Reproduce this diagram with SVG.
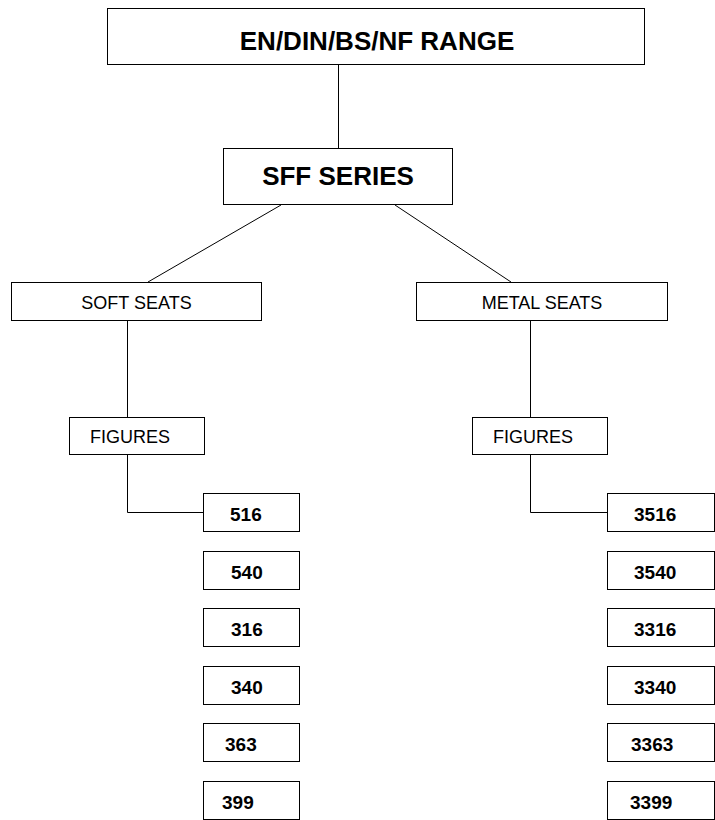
<svg xmlns="http://www.w3.org/2000/svg" width="715" height="820" viewBox="0 0 715 820">
<style>
rect{fill:#fff;stroke:#000;stroke-width:1}
line,polyline{stroke:#000;stroke-width:1;fill:none}
text{font-family:"Liberation Sans",Arial,sans-serif;fill:#000}
.big{font-size:26px;font-weight:bold;text-anchor:middle}
.mid{font-size:18px;text-anchor:middle}
.lab{font-size:18px}
.num{font-size:19px;font-weight:bold}
</style>
<rect width="715" height="820" style="stroke:none"/>
<g id="connectors">
<line x1="338.5" y1="65" x2="338.5" y2="148"/>
<line x1="281" y1="205" x2="148" y2="282"/>
<line x1="395" y1="205" x2="511" y2="282"/>
<line x1="127.5" y1="321" x2="127.5" y2="417"/>
<line x1="530.5" y1="321" x2="530.5" y2="417"/>
<polyline points="127.5,454 127.5,512.5 203,512.5"/>
<polyline points="530.5,454 530.5,512.5 607,512.5"/>
</g>
<g id="range"><rect x="107.5" y="8.5" width="537" height="56"/><text class="big" x="377" y="50">EN/DIN/BS/NF RANGE</text></g>
<g id="sff"><rect x="223.5" y="148.5" width="229" height="56"/><text class="big" x="338" y="185">SFF SERIES</text></g>
<g id="soft"><rect x="11.5" y="282.5" width="250" height="38"/><text class="mid" x="136.5" y="309">SOFT SEATS</text></g>
<g id="metal"><rect x="416.5" y="282.5" width="251" height="38"/><text class="mid" x="542" y="309">METAL SEATS</text></g>
<g id="fig-soft"><rect x="69.5" y="417.5" width="135" height="37"/><text class="lab" x="90" y="443">FIGURES</text></g>
<g id="fig-metal"><rect x="472.5" y="417.5" width="135" height="37"/><text class="lab" x="493" y="443">FIGURES</text></g>
<g id="n516"><rect x="203.5" y="493.5" width="96" height="38"/><text class="num" x="230" y="521">516</text></g>
<g id="n540"><rect x="203.5" y="551.5" width="96" height="38"/><text class="num" x="231" y="579">540</text></g>
<g id="n316"><rect x="203.5" y="608.5" width="96" height="38"/><text class="num" x="231" y="636">316</text></g>
<g id="n340"><rect x="203.5" y="666.5" width="96" height="38"/><text class="num" x="231" y="694">340</text></g>
<g id="n363"><rect x="203.5" y="723.5" width="96" height="38"/><text class="num" x="225" y="751">363</text></g>
<g id="n399"><rect x="203.5" y="781.5" width="96" height="38"/><text class="num" x="222" y="809">399</text></g>
<g id="n3516"><rect x="607.5" y="493.5" width="107" height="38"/><text class="num" x="634" y="521">3516</text></g>
<g id="n3540"><rect x="607.5" y="551.5" width="107" height="38"/><text class="num" x="634" y="579">3540</text></g>
<g id="n3316"><rect x="607.5" y="608.5" width="107" height="38"/><text class="num" x="634" y="636">3316</text></g>
<g id="n3340"><rect x="607.5" y="666.5" width="107" height="38"/><text class="num" x="634" y="694">3340</text></g>
<g id="n3363"><rect x="607.5" y="723.5" width="107" height="38"/><text class="num" x="631" y="751">3363</text></g>
<g id="n3399"><rect x="607.5" y="781.5" width="107" height="38"/><text class="num" x="630" y="809">3399</text></g>
</svg>
